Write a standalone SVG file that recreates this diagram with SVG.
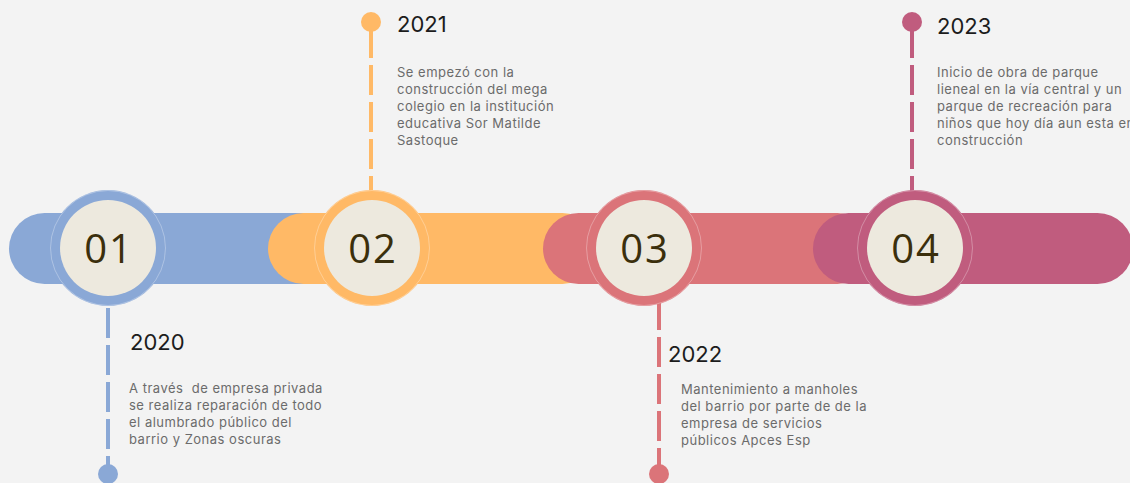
<svg xmlns="http://www.w3.org/2000/svg" width="1130" height="483" viewBox="0 0 1130 483">
<style>
.yr{font-family:Inter,"Liberation Sans",sans-serif;font-size:22px;fill:#1c1c1c}
.body{font-family:Inter,"Liberation Sans",sans-serif;font-size:13px;fill:#6b6b6b;letter-spacing:0.5px;white-space:pre}
.num{font-family:"Open Sans","Liberation Sans",sans-serif;font-size:40px;fill:#3b2f0c;text-anchor:middle;letter-spacing:2px}
.inner{fill:#ede9de}
.edge{fill:none;stroke:#ffffff;stroke-opacity:0.3;stroke-width:1}
.dash{fill:none;stroke-width:4;stroke-dasharray:30 7}
</style>
<rect width="1130" height="483" fill="#f3f3f3"/>
<g id="connectors">
<line class="dash" x1="108" y1="308" x2="108" y2="470" stroke="#8aa8d6"/>
<circle cx="108" cy="474" r="10" fill="#8aa8d6"/>
<line class="dash" x1="371" y1="28" x2="371" y2="195" stroke="#ffb966" stroke-dasharray="9 6 32 5 32 5 30 6 40"/>
<circle cx="371" cy="22" r="10" fill="#ffb966"/>
<line class="dash" x1="659" y1="300" x2="659" y2="470" stroke="#db7479"/>
<circle cx="659" cy="474" r="10" fill="#db7479"/>
<line class="dash" x1="912" y1="28" x2="912" y2="195" stroke="#c05c7e" stroke-dasharray="9 6 32 5 32 5 30 6 40"/>
<circle cx="912" cy="22" r="10" fill="#c05c7e"/>
</g>
<g id="bars">
<rect x="9" y="213" width="330" height="71" rx="35.5" fill="#8aa8d6"/>
<rect x="268" y="213" width="330" height="71" rx="35.5" fill="#ffb966"/>
<rect x="543" y="213" width="330" height="71" rx="35.5" fill="#db7479"/>
<rect x="813" y="213" width="320" height="71" rx="35.5" fill="#c05c7e"/>
</g>
<g id="node-01">
<circle cx="108" cy="248" r="58" fill="#8aa8d6"/>
<circle class="edge" cx="108" cy="248" r="57.5"/>
<circle class="inner" cx="108" cy="248" r="48"/>
<text class="num" x="109" y="263">01</text>
</g>
<g id="node-02">
<circle cx="372" cy="248" r="58" fill="#ffb966"/>
<circle class="edge" cx="372" cy="248" r="57.5"/>
<circle class="inner" cx="372" cy="248" r="48"/>
<text class="num" x="373" y="263">02</text>
</g>
<g id="node-03">
<circle cx="644" cy="248" r="58" fill="#db7479"/>
<circle class="edge" cx="644" cy="248" r="57.5"/>
<circle class="inner" cx="644" cy="248" r="48"/>
<text class="num" x="645" y="263">03</text>
</g>
<g id="node-04">
<circle cx="915" cy="248" r="58" fill="#c05c7e"/>
<circle class="edge" cx="915" cy="248" r="57.5"/>
<circle class="inner" cx="915" cy="248" r="48"/>
<text class="num" x="916" y="263">04</text>
</g>
<g id="label-2020">
<text class="yr" x="130" y="350">2020</text>
<text class="body" x="129" y="393">A través  de empresa privada</text>
<text class="body" x="129" y="410">se realiza reparación de todo</text>
<text class="body" x="129" y="427">el alumbrado público del</text>
<text class="body" x="129" y="444">barrio y Zonas oscuras</text>
</g>
<g id="label-2021">
<text class="yr" x="397" y="32">2021</text>
<text class="body" x="397" y="77">Se empezó con la</text>
<text class="body" x="397" y="94">construcción del mega</text>
<text class="body" x="397" y="111">colegio en la institución</text>
<text class="body" x="397" y="128">educativa Sor Matilde</text>
<text class="body" x="397" y="145">Sastoque</text>
</g>
<g id="label-2022">
<text class="yr" x="668" y="362">2022</text>
<text class="body" x="681" y="394">Mantenimiento a manholes</text>
<text class="body" x="681" y="411">del barrio por parte de de la</text>
<text class="body" x="681" y="428">empresa de servicios</text>
<text class="body" x="681" y="445">públicos Apces Esp</text>
</g>
<g id="label-2023">
<text class="yr" x="937" y="34">2023</text>
<text class="body" x="937" y="77">Inicio de obra de parque</text>
<text class="body" x="937" y="94">lieneal en la vía central y un</text>
<text class="body" x="937" y="111">parque de recreación para</text>
<text class="body" x="937" y="128">niños que hoy día aun esta en</text>
<text class="body" x="937" y="145">construcción</text>
</g>
</svg>
